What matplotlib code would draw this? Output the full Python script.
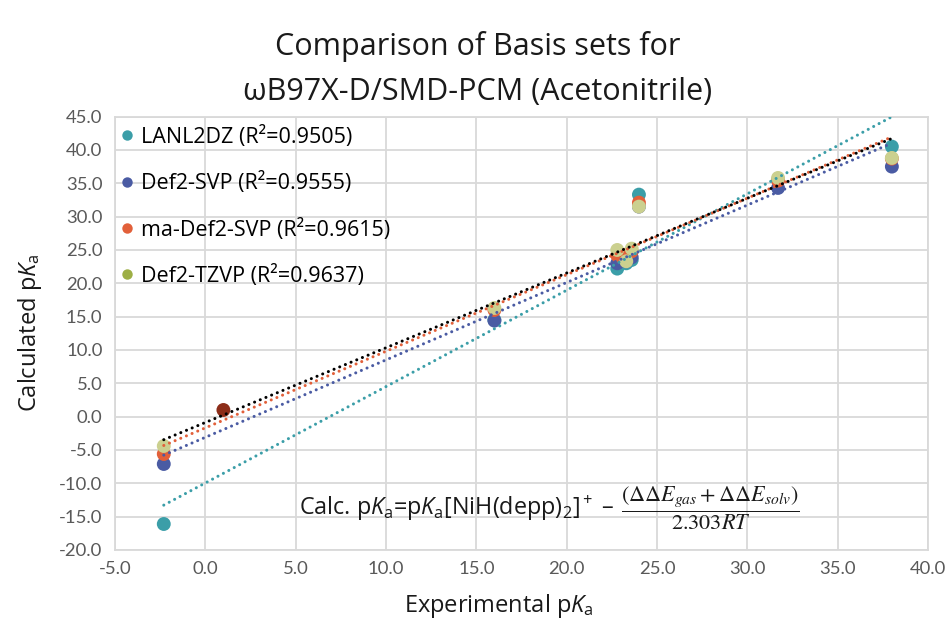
import numpy as np
import matplotlib
matplotlib.use("Agg")
import matplotlib.pyplot as plt
from matplotlib.lines import Line2D

plt.rcParams['font.family'] = ['Open Sans', 'DejaVu Sans']
plt.rcParams['mathtext.fontset'] = 'custom'
plt.rcParams['mathtext.rm'] = 'Open Sans'
plt.rcParams['mathtext.it'] = 'Open Sans:italic'
plt.rcParams['mathtext.bf'] = 'Open Sans:bold'

# Experimental pKa values (acetonitrile) and calculated values per basis set
exp_pka = [-2.3, 16.0, 22.8, 23.3, 23.6, 24.0, 31.7, 38.0]
series_names = ["LANL2DZ", "Def2-SVP", "ma-Def2-SVP", "Def2-TZVP"]
r_squared = ["0.9505", "0.9555", "0.9615", "0.9637"]
calc_lanl2dz = [-16.1, 14.5, 22.2, 23.0, 23.5, 33.3, 35.5, 40.5]
calc_def2svp = [-7.1, 14.4, 23.0, 23.3, 23.9, 31.5, 34.3, 37.5]
calc_madef2svp = [-5.6, 16.0, 24.2, 24.3, 24.8, 32.1, 35.4, 38.7]
calc_def2tzvp = [-4.4, 16.3, 25.0, 23.3, 25.2, 31.5, 35.8, 38.8]
# reference compound
ref_exp = [1.0]
ref_calc = [1.0]

x_ticks = np.arange(-5, 41, 5)
y_ticks = np.arange(-20, 46, 5)

legend_colors = ["#3B9EA8", "#4A5BA3", "#E2603A", "#9DAF45"]
marker_colors = ["#3B9EA8", "#4A5BA3", "#E2603A", "#CBD08F"]
trend_colors = ["#3B9EA8", "#4A5BA3", "#E2603A", "#000000"]
ref_color = "#8C2D19"
text_color = "#1a1a1a"

fig = plt.figure(figsize=(9.53, 6.25), dpi=100)
ax = fig.add_axes([115 / 953, 1 - 550 / 625, (928 - 115) / 953, (550 - 116.6) / 625])
ax.set_xlim(-5, 40)
ax.set_ylim(-20, 45)
ax.set_xticks(x_ticks)
ax.set_yticks(y_ticks)
ax.set_xticklabels([f"{v:.1f}" for v in x_ticks], family="Lato")
ax.set_yticklabels([f"{v:.1f}" for v in y_ticks], family="Lato")
ax.tick_params(length=0, labelcolor="#595959", labelsize=13.3)
ax.tick_params(axis="x", pad=8)
ax.tick_params(axis="y", pad=9)
ax.grid(color="#d9d9d9", lw=1.3)
ax.set_axisbelow(True)
for sp in ax.spines.values():
    sp.set_color("#d9d9d9")
    sp.set_linewidth(1.3)

all_calc = [calc_lanl2dz, calc_def2svp, calc_madef2svp, calc_def2tzvp]
xs = np.array(exp_pka)
for i, (calc, mc) in enumerate(zip(all_calc, marker_colors)):
    ax.scatter(xs, calc, s=100, color=mc, edgecolors="none", zorder=3 + 0.1 * i)
ax.scatter(ref_exp, ref_calc, s=100, color=ref_color, edgecolors="none", zorder=3.5)

# linear trendlines
xfit = np.array([xs.min(), xs.max()])
for calc, tc in zip(all_calc, trend_colors):
    m, b = np.polyfit(xs, calc, 1)
    ax.plot(xfit, m * xfit + b, color=tc, lw=2.2, linestyle=(0, (0.01, 2.0)),
            dash_capstyle="round", zorder=4)

handles = [Line2D([], [], marker="o", ls="none", markersize=7.5, color=c,
                  markeredgewidth=0) for c in legend_colors]
labels = [f"{n} (R²={r})" for n, r in zip(series_names, r_squared)]
ax.legend(handles, labels, loc="upper left", bbox_to_anchor=(121 / 953, 1 - 126 / 625),
          bbox_transform=fig.transFigure, frameon=False, fontsize=15.5,
          handlelength=0.6, handletextpad=0.35, labelspacing=1.13,
          borderpad=0, borderaxespad=0)

fig.text(478 / 953, 1 - 47 / 625, "Comparison of Basis sets for", ha="center",
         va="center", fontsize=22, color=text_color)
fig.text(478 / 953, 1 - 92 / 625, "ωB97X-D/SMD-PCM (Acetonitrile)", ha="center",
         va="center", fontsize=22, color=text_color)

fig.text(499 / 953, 1 - 606 / 625, "Experimental p$K_\\mathrm{a}$", ha="center",
         va="center", fontsize=17, color=text_color)
fig.text(30 / 953, 1 - 333 / 625, "Calculated p$K_\\mathrm{a}$", ha="center",
         va="center", rotation=90, fontsize=17, color=text_color)

# pKa expression relative to the nickel hydride reference
fig.text(299 / 953, 1 - 508 / 625,
         "Calc. p$K_\\mathrm{a}$=p$K_\\mathrm{a}$[NiH(depp)$_2$]$^+$ –",
         ha="left", va="center", fontsize=16.8, color=text_color)
fig.text(621 / 953, 1 - 508 / 625,
         r"$\dfrac{(\Delta\Delta E_{gas}+\Delta\Delta E_{solv})}{2.303RT}$",
         ha="left", va="center", fontsize=16, color=text_color, math_fontfamily="stix")

fig.savefig("out.png", dpi=100)
